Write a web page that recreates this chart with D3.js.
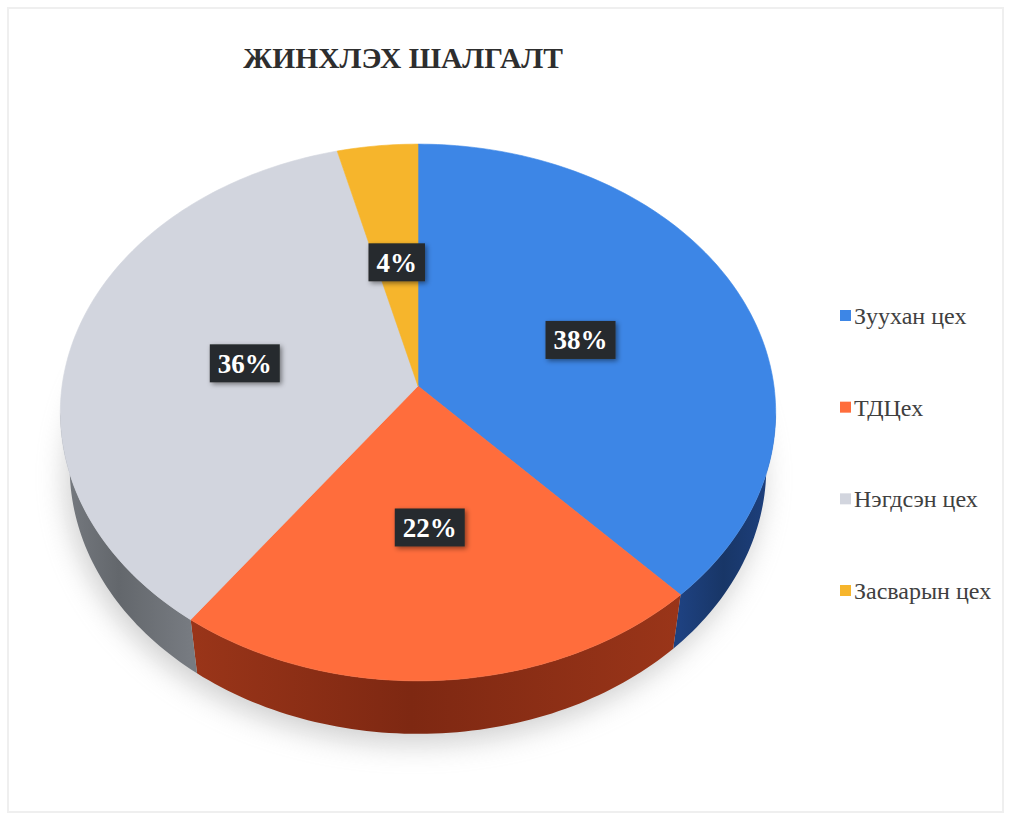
<!DOCTYPE html>
<html>
<head>
<meta charset="utf-8">
<script src="https://cdn.jsdelivr.net/npm/d3@7"></script>
<style>
  body { margin: 0; background: #fff; }
  svg { display: block; }
</style>
</head>
<body>
<div class="chart"></div>
<script>
const title = "ЖИНХЛЭХ ШАЛГАЛТ";
const categories = ["Зуухан цех", "ТДЦех", "Нэгдсэн цех", "Засварын цех"];
const values = [38, 22, 36, 4];
const labels = ["38%", "22%", "36%", "4%"];
const topColors = ["#3d86e6", "#ff6d3c", "#d2d5de", "#f6b52c"];
const sideColors = [["#1e4180", "#183667"], ["#9a3519", "#7e2812"], ["#777b81", "#63676c"], ["#b07d1a", "#8d6212"]];

const serif = "Liberation Serif";
const width = 1011;
const height = 826;

let svg = d3.select(".chart")
  .append("svg")
  .attr("width", width)
  .attr("height", height);

let defs = svg.append("defs");
defs.append("filter").attr("id", "blur")
  .attr("x", "-20%").attr("y", "-20%").attr("width", "140%").attr("height", "140%")
  .append("feGaussianBlur").attr("stdDeviation", 14);
let sh = defs.append("filter").attr("id", "lblShadow")
  .attr("x", "-30%").attr("y", "-30%").attr("width", "160%").attr("height", "160%");
sh.append("feDropShadow").attr("dx", 2).attr("dy", 2).attr("stdDeviation", 2.5)
  .attr("flood-color", "#000").attr("flood-opacity", 0.45);

// faint scan frame
svg.append("rect")
  .attr("x", 8).attr("y", 8).attr("width", width - 16).attr("height", height - 22)
  .attr("fill", "none").attr("stroke", "#efefef").attr("stroke-width", 2);

svg.append("text")
  .attr("x", 403).attr("y", 68)
  .attr("text-anchor", "middle")
  .style("font-family", serif)
  .style("font-weight", "bold")
  .style("font-size", "29.5px")
  .attr("fill", "#2e2e2e")
  .text(title);

// perspective camera for the 3d pie
const cx = 418, cy = 386;
const focal = 2399, dist = 6.74;
const phi = 48.3 * Math.PI / 180;
const sPhi = Math.sin(phi), cPhi = Math.cos(phi);
const thick = 0.241;

function proj(theta, r, y){
  let x3 = r * Math.sin(theta);
  let z3 = -r * Math.cos(theta);
  let u = y * cPhi - z3 * sPhi;
  let depth = dist - (z3 * cPhi + y * sPhi);
  return [cx + focal * x3 / depth, cy - focal * u / depth];
}

function arcPoints(a0, a1, r, y){
  let n = Math.max(2, Math.ceil(Math.abs(a1 - a0) / 0.02));
  return d3.range(n + 1).map(i => proj(a0 + (a1 - a0) * i / n, r, y));
}

let line = d3.line();
let pie = d3.pie().sort(null).startAngle(0).endAngle(2 * Math.PI);
let arcs = pie(values);

// soft shadow under the pie
let shadowPts = arcPoints(0, 2 * Math.PI, 1.0, -thick).map(p => [p[0] - 4, p[1] + 10]);
svg.append("path")
  .attr("d", line(shadowPts) + "Z")
  .attr("fill", "#a0a0a0")
  .attr("opacity", 0.5)
  .attr("filter", "url(#blur)");

// visible wall range (silhouette)
const sil = Math.acos(-cPhi / dist);
const wallA = sil, wallB = 2 * Math.PI - sil;

let walls = svg.append("g");
arcs.forEach((d, i) => {
  let a0 = Math.max(d.startAngle, wallA);
  let a1 = Math.min(d.endAngle, wallB);
  if (a1 <= a0) return;
  let topPts = arcPoints(a0, a1, 1, 0);
  let botPts = arcPoints(a1, a0, 1, -thick);
  let gid = "wall" + i;
  let g = defs.append("linearGradient").attr("id", gid)
    .attr("gradientUnits", "userSpaceOnUse")
    .attr("x1", topPts[0][0]).attr("y1", 0)
    .attr("x2", topPts[topPts.length - 1][0]).attr("y2", 0);
  g.append("stop").attr("offset", "0%").attr("stop-color", sideColors[i][0]);
  g.append("stop").attr("offset", "55%").attr("stop-color", sideColors[i][1]);
  g.append("stop").attr("offset", "100%").attr("stop-color", sideColors[i][0]);
  walls.append("path")
    .attr("d", line(topPts.concat(botPts)) + "Z")
    .attr("fill", "url(#" + gid + ")");
});

let tops = svg.append("g");
arcs.forEach((d, i) => {
  let pts = [proj(0, 0, 0)].concat(arcPoints(d.startAngle, d.endAngle, 1, 0));
  tops.append("path")
    .attr("d", line(pts) + "Z")
    .attr("fill", topColors[i])
    .attr("stroke", topColors[i])
    .attr("stroke-width", 0.6);
});

// data labels, halfway out along each slice's middle angle
let lbl = svg.append("g");
arcs.forEach((d, i) => {
  let mid = (d.startAngle + d.endAngle) / 2;
  let p = proj(mid, 0.5, 0);
  let g = lbl.append("g").attr("transform", "translate(" + p[0] + "," + (p[1] + 2) + ")");
  let rect = g.append("rect").attr("fill", "#272b2d").attr("filter", "url(#lblShadow)");
  let t = g.append("text")
    .attr("text-anchor", "middle")
    .attr("dy", "0.35em")
    .style("font-family", serif)
    .style("font-weight", "bold")
    .style("font-size", "27px")
    .attr("fill", "#ffffff")
    .text(labels[i]);
  let bb = t.node().getBBox();
  let w = bb.width + 16;
  rect.attr("x", -w / 2).attr("y", -19).attr("width", w).attr("height", 38);
});

// legend
let ly = d3.scalePoint().domain(categories).range([315, 590]);
let legend = svg.append("g");
categories.forEach((c, i) => {
  legend.append("rect")
    .attr("x", 840).attr("y", ly(c) - 5)
    .attr("width", 11).attr("height", 11)
    .attr("fill", topColors[i]);
  legend.append("text")
    .attr("x", 854).attr("y", ly(c))
    .attr("dy", "0.38em")
    .style("font-family", serif)
    .style("font-size", "24px")
    .attr("fill", "#404040")
    .text(c);
});
</script>
</body>
</html>
